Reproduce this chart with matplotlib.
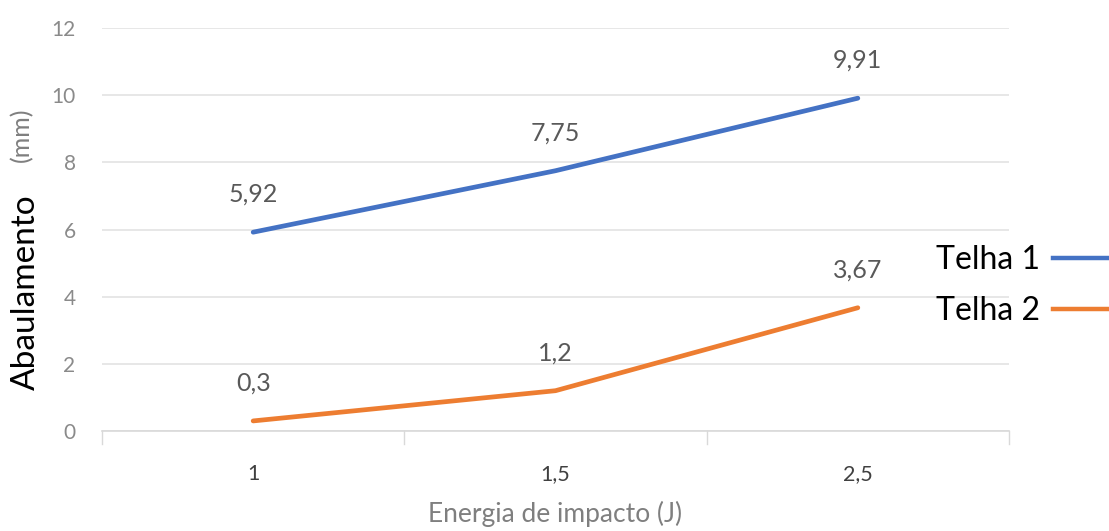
import matplotlib
matplotlib.use("Agg")
import matplotlib.pyplot as plt
from matplotlib.lines import Line2D

# Data
categories = ["1", "1,5", "2,5"]
telha1 = [5.92, 7.75, 9.91]
telha2 = [0.3, 1.2, 3.67]
series_names = ["Telha 1", "Telha 2"]
yticks = [0, 2, 4, 6, 8, 10, 12]

BLUE = "#4472C4"
ORANGE = "#ED7D31"
GREY = "#595959"

plt.rcParams["font.family"] = ["Lato", "DejaVu Sans"]

W, H = 1109, 531
fig = plt.figure(figsize=(W / 100, H / 100), dpi=100)
ax = fig.add_axes([102 / W, 1 - 431 / H, (1009 - 102) / W, (431 - 28) / H])

xs = list(range(len(categories)))
for vals, color in ((telha1, BLUE), (telha2, ORANGE)):
    ax.plot(xs, vals, color=color, lw=3.4, solid_capstyle="round", zorder=3)
    for x, v in zip(xs, vals):
        ax.annotate(f"{v:g}".replace(".", ","), (x, v), xytext=(0, 19),
                    textcoords="offset points", ha="center", va="bottom",
                    fontsize=18, color=GREY)

ax.set_xlim(-0.5, len(categories) - 0.5)
ax.set_ylim(0, 12)
ax.set_yticks(yticks)
ax.set_yticklabels([str(t) for t in yticks], fontsize=15, color="#8a8a8a")
ax.set_xticks(xs)
ax.set_xticklabels(categories, fontsize=15.5, color="#404040")
ax.tick_params(axis="y", length=0, pad=19)
ax.tick_params(axis="x", length=0, pad=24)

# category boundary tick marks
for b in [-0.5, 0.5, 1.5, 2.5]:
    ax.plot([b, b], [0, -0.4], color="#d9d9d9", lw=1, clip_on=False)

ax.grid(axis="y", color="#e3e3e3", lw=1.2)
ax.set_axisbelow(True)
for s in ("top", "right", "left"):
    ax.spines[s].set_visible(False)
ax.spines["bottom"].set_color("#d9d9d9")
ax.spines["bottom"].set_linewidth(1.2)

ax.set_xlabel("Energia de impacto (J)", fontsize=19, color="#7f7f7f", labelpad=12)

# y-axis title: large word plus small unit
fig.text(26 / W, 1 - 292 / H, "Abaulamento", rotation=90, fontsize=24,
         color="black", ha="center", va="center")
fig.text(22 / W, 1 - 135 / H, "(mm)", rotation=90, fontsize=18,
         color="#7f7f7f", ha="center", va="center")

# legend on the right: label then line sample
for name, color, yc in ((series_names[0], BLUE, 257), (series_names[1], ORANGE, 308)):
    fig.text(1040 / W, 1 - yc / H, name, fontsize=23, color="black",
             ha="right", va="center_baseline")
    fig.add_artist(Line2D([1053 / W, 1.01], [1 - (yc + 1) / H] * 2,
                          color=color, lw=3.2, transform=fig.transFigure))

fig.savefig("out.png", dpi=100, facecolor="white")
